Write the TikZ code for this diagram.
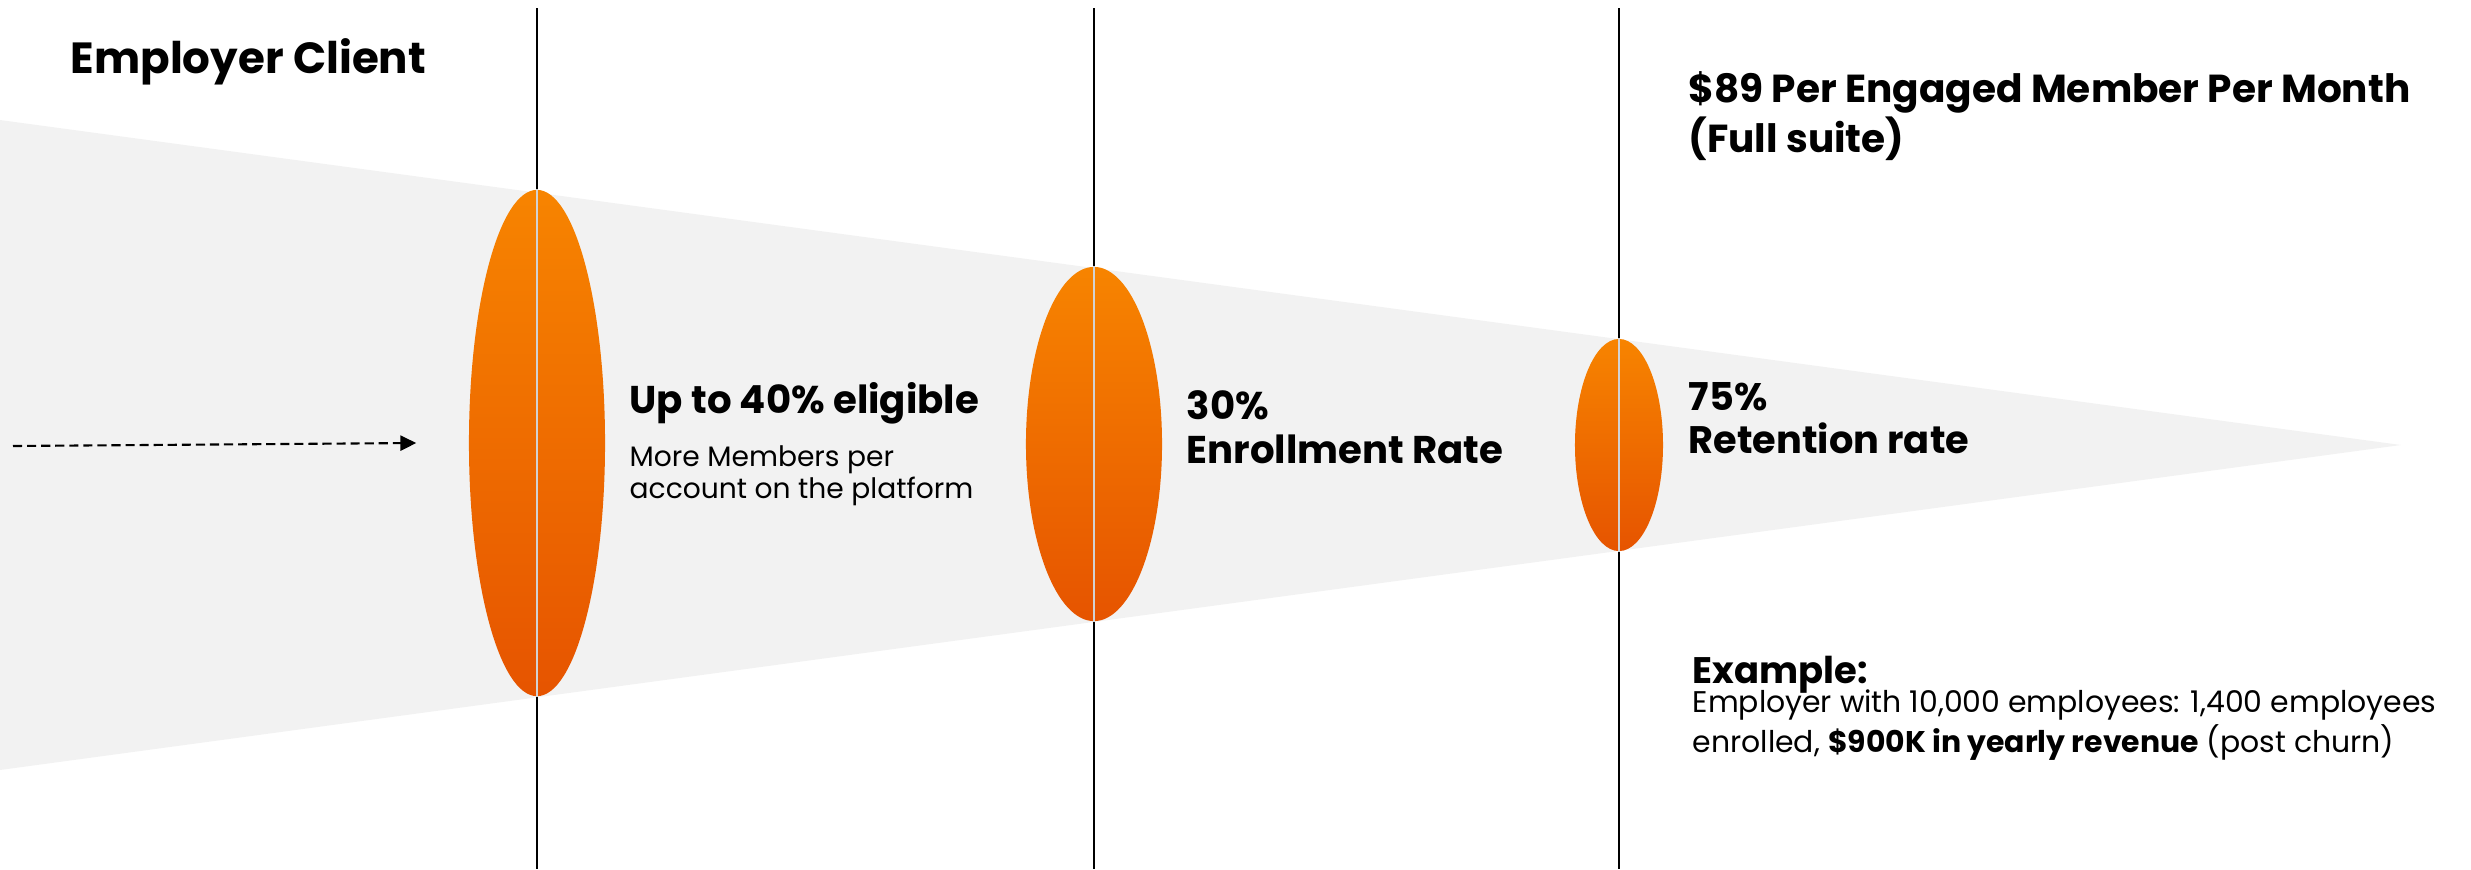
\documentclass[tikz,border=0pt]{standalone}
\usepackage{fontspec}
\setmainfont{Poppins}
\usetikzlibrary{shapes.geometric}
\usetikzlibrary{arrows.meta}
\usetikzlibrary{positioning}
\definecolor{funnelgray}{RGB}{242,242,242}
\definecolor{lenstop}{RGB}{247,132,0}
\definecolor{lensbottom}{RGB}{230,84,0}
\definecolor{lensline}{RGB}{210,210,210}

\begin{document}
\begin{tikzpicture}[x=0.01cm,y=-0.01cm]
  \useasboundingbox (0,0) rectangle (2471,869);
  % funnel
  \fill[funnelgray] (0,120) -- (2401,445) -- (0,770) -- cycle;
  \foreach \x in {537,1094,1619}
    \draw[black,line width=0.7pt] (\x,8) -- (\x,869);
  \begin{scope}[every node/.style={ellipse,inner sep=0pt,draw=none,top color=lenstop,bottom color=lensbottom}]
    \node[minimum width=1.36cm,minimum height=5.06cm] (lensa) at (537,443) {};
    \node[minimum width=1.36cm,minimum height=3.54cm] (lensb) at (1094,444) {};
    \node[minimum width=0.88cm,minimum height=2.12cm] (lensc) at (1619,445) {};
  \end{scope}
  \foreach \l in {lensa,lensb,lensc}
    \draw[lensline,line width=0.5pt] (\l.north) -- (\l.south);
  % feed arrow
  \coordinate (feed) at (13,446);
  \draw[line width=0.6pt,dash pattern=on 2.6pt off 1.4pt,-{Triangle[length=4.5pt,width=4.3pt]}]
    (feed) -- ([xshift=-0.52cm]lensa.west);
  % labels (base = last line)
  \begin{scope}[every node/.style={anchor=base west,inner sep=0pt,align=left,text=black}]
    \node[font=\fontsize{12.4}{14}\selectfont\bfseries] (client) at (70,73) {Employer Client};
    \node[font=\fontsize{11.1}{13}\selectfont\bfseries] (price) at (1688,152)
      {\$89 Per Engaged Member Per Month\\(Full suite)};
    \node[font=\fontsize{11}{12.5}\selectfont\bfseries] (eligible) at (629,413) {Up to 40\% eligible};
    \node[font=\fontsize{8}{9.1}\selectfont] (members) at (629,498)
      {More Members per\\account on the platform};
    \node[font=\fontsize{11}{12.5}\selectfont\bfseries] (enroll) at (1186,463) {30\%\\Enrollment Rate};
    \node[font=\fontsize{10.9}{12.2}\selectfont\bfseries] (retain) at (1688,453) {75\%\\Retention rate};
    \node[font=\fontsize{10.5}{12}\selectfont\bfseries] (example) at (1692,683) {Example:};
    \node[font=\fontsize{8.5}{9.1}\selectfont] (detail) at (1692,752)
      {Employer with 10,000 employees: 1,400 employees\\enrolled, {\bfseries\$900K in yearly revenue} (post churn)};
  \end{scope}
\end{tikzpicture}
\end{document}
